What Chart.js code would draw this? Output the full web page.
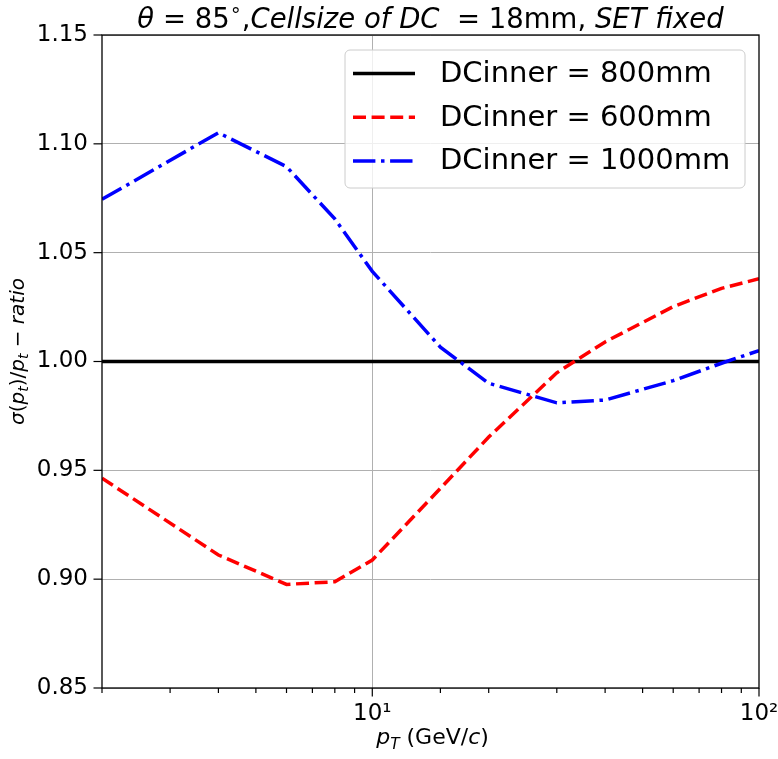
<!DOCTYPE html>
<html>
<head>
<meta charset="utf-8">
<script src="https://cdn.jsdelivr.net/npm/chart.js@4/dist/chart.umd.min.js"></script>
<style>
html,body{margin:0;padding:0;background:#fff;}
#wrap{width:778px;height:759px;}
</style>
</head>
<body>
<div id="wrap"><canvas id="c" width="778" height="759"></canvas></div>
<script>
// ---- data ----
const ptValues  = [2, 4, 6, 8, 10, 15, 20, 30, 40, 60, 80, 100];
const ratio800  = [1, 1, 1, 1, 1, 1, 1, 1, 1, 1, 1, 1];
const ratio600  = [0.9464, 0.9111, 0.8976, 0.8988, 0.9088, 0.9417, 0.9653, 0.9948, 1.0090, 1.0252, 1.0336, 1.0380];
const ratio1000 = [1.0745, 1.1051, 1.0895, 1.0655, 1.0414, 1.0066, 0.9900, 0.9810, 0.9823, 0.9912, 0.9992, 1.0050];
const seriesLabels = ['DCinner = 800mm', 'DCinner = 600mm', 'DCinner = 1000mm'];
const yTickValues = [0.85, 0.90, 0.95, 1.00, 1.05, 1.10, 1.15];
const xMajorLabels = {10: '10\u00B9', 100: '10\u00B2'};

const FONT = "'DejaVu Sans', sans-serif";
Chart.defaults.font.family = FONT;
Chart.defaults.color = '#000';

function pts(ys){ return ptValues.map((x,i)=>({x:x, y:ys[i]})); }

function drawRich(ctx, segs, x, y, size, align){
  const parts = segs.map(s=>{
    const fs = (s.sub||s.sup) ? size*0.7 : size;
    const f = (s.it?'italic ':'') + fs + 'px ' + FONT;
    ctx.font = f;
    return {s, f, w: ctx.measureText(s.t).width};
  });
  const total = parts.reduce((a,p)=>a+p.w,0);
  let cx = align==='center' ? x - total/2 : x;
  ctx.textBaseline = 'alphabetic';
  ctx.textAlign = 'left';
  for(const p of parts){
    ctx.font = p.f;
    let dy = 0;
    if(p.s.sub) dy = size*0.22;
    if(p.s.sup) dy = -size*0.42;
    ctx.fillText(p.s.t, cx, y+dy);
    cx += p.w;
  }
}

const decorPlugin = {
  id: 'decor',
  afterDatasetsDraw(chart){
    const ctx = chart.ctx, a = chart.chartArea;
    const xs = chart.scales.x, ys = chart.scales.y;
    ctx.save();
    // spines
    ctx.strokeStyle = '#000'; ctx.lineWidth = 1.3;
    ctx.strokeRect(a.left, a.top, a.right-a.left, a.bottom-a.top);
    // x ticks (major longer, minor shorter)
    ctx.lineWidth = 1.2;
    for(const t of xs.ticks){
      const px = xs.getPixelForValue(t.value);
      const major = (t.value===10 || t.value===100);
      const len = major ? 8.5 : 5;
      ctx.beginPath(); ctx.moveTo(px, a.bottom); ctx.lineTo(px, a.bottom+len); ctx.stroke();
    }
    for(const t of ys.ticks){
      const py = ys.getPixelForValue(t.value);
      ctx.beginPath(); ctx.moveTo(a.left, py); ctx.lineTo(a.left-8.5, py); ctx.stroke();
    }
    ctx.fillStyle = '#000';
    // title
    drawRich(ctx, [
      {t:'\u03B8', it:true}, {t:' = 85'}, {t:'\u2218', sup:true}, {t:','},
      {t:'Cellsize of DC', it:true}, {t:'  = 18mm, '}, {t:'SET fixed', it:true}
    ], (a.left+a.right)/2, 28, 27.5, 'center');
    // x label
    drawRich(ctx, [
      {t:'p', it:true}, {t:'T', it:true, sub:true}, {t:' (GeV/'}, {t:'c', it:true}, {t:')'}
    ], (a.left+a.right)/2 + 2, 744, 22, 'center');
    // y label
    ctx.save();
    ctx.translate(24, (a.top+a.bottom)/2 - 10);
    ctx.rotate(-Math.PI/2);
    drawRich(ctx, [
      {t:'\u03C3', it:true}, {t:'('}, {t:'p', it:true}, {t:'t', it:true, sub:true}, {t:')/'},
      {t:'p', it:true}, {t:'t', it:true, sub:true}, {t:' \u2212 '}, {t:'ratio', it:true}
    ], 0, 0, 20, 'center');
    ctx.restore();
    // legend
    const lx = 345, ly = 50, lw = 400, lh = 138;
    ctx.beginPath();
    ctx.roundRect(lx, ly, lw, lh, 5);
    ctx.fillStyle = 'rgba(255,255,255,0.8)';
    ctx.fill();
    ctx.strokeStyle = '#cccccc'; ctx.lineWidth = 1;
    ctx.stroke();
    chart.data.datasets.forEach((ds, i)=>{
      const cy = 73.5 + i*43.7;
      ctx.strokeStyle = ds.borderColor;
      ctx.lineWidth = ds.borderWidth;
      ctx.setLineDash(ds.borderDash || []);
      ctx.lineCap = 'butt';
      ctx.beginPath(); ctx.moveTo(353, cy); ctx.lineTo(415, cy); ctx.stroke();
      ctx.setLineDash([]);
      ctx.fillStyle = '#000';
      ctx.font = '29px ' + FONT;
      ctx.textBaseline = 'middle';
      ctx.textAlign = 'left';
      ctx.fillText(ds.label, 440, cy+1);
    });
    ctx.restore();
  }
};

new Chart(document.getElementById('c'), {
  type: 'line',
  data: {
    datasets: [
      {label: seriesLabels[0], data: pts(ratio800), borderColor: '#000000', borderWidth: 3.5, borderDash: [], order: 3},
      {label: seriesLabels[1], data: pts(ratio600), borderColor: '#ff0000', borderWidth: 3.5, borderDash: [13, 5.6], order: 2},
      {label: seriesLabels[2], data: pts(ratio1000), borderColor: '#0000ff', borderWidth: 3.5, borderDash: [22.4, 5.6, 3.5, 5.6], order: 1}
    ]
  },
  options: {
    responsive: false,
    animation: false,
    parsing: true,
    elements: { point: {radius: 0}, line: {tension: 0, borderCapStyle: 'butt', fill: false} },
    layout: { padding: {top: 35, right: 19, left: 0, bottom: 0} },
    plugins: { legend: {display: false}, title: {display: false}, tooltip: {enabled: false} },
    scales: {
      x: {
        type: 'logarithmic', min: 2, max: 100,
        afterFit(s){ s.height = 71; s.paddingLeft = 0; s.paddingRight = 0; },
        grid: {
          drawTicks: false,
          color: c => (c.tick && c.tick.value === 10) ? '#b0b0b0' : 'rgba(0,0,0,0)',
          lineWidth: 1
        },
        border: {display: false},
        ticks: {
          autoSkip: false, maxRotation: 0, padding: 12,
          font: {size: 23}, color: '#000',
          callback: v => xMajorLabels[v] || ''
        }
      },
      y: {
        type: 'linear', min: 0.85, max: 1.15,
        afterFit(s){ s.width = 102; s.paddingTop = 0; s.paddingBottom = 0; },
        afterBuildTicks(s){ s.ticks = yTickValues.map(v=>({value:v})); },
        grid: { drawTicks: false, color: '#b0b0b0', lineWidth: 1 },
        border: {display: false},
        ticks: {
          padding: 14, font: {size: 23}, color: '#000',
          callback: v => Number(v).toFixed(2)
        }
      }
    }
  },
  plugins: [decorPlugin]
});
</script>
</body>
</html>
